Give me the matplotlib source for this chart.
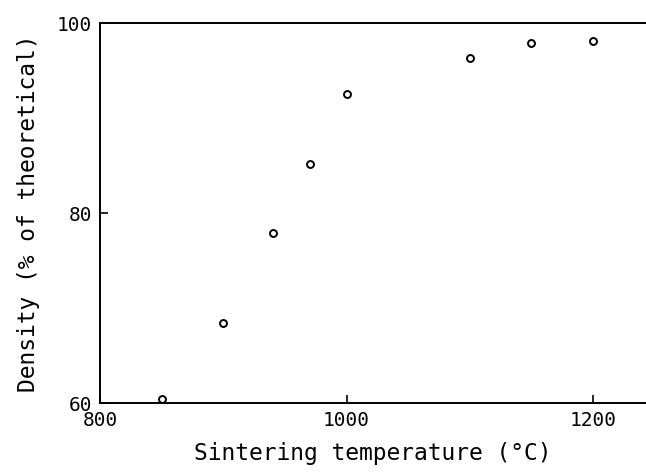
#density vs sintering temperature
import matplotlib
matplotlib.use("Agg")
import matplotlib.pyplot as plt

temperature=[850,900,940,970,1000,1100,1150,1200]
density=[60.4,68.4,77.9,85.2,92.5,96.3,97.9,98.1]
xticks=[800,1000,1200]
yticks=[60,80,100]

plt.rcParams['font.family']=['DejaVu Sans Mono']

fig=plt.figure(figsize=(6.46,4.72),dpi=100)
ax=fig.add_axes([0.155,0.146,0.845,0.805])
ax.plot(temperature,density,linestyle='none',marker='o',ms=5,mfc='white',mec='black',mew=1.4)

ax.set_xlim(800,1243)
ax.set_ylim(60,100)
ax.set_xticks(xticks)
ax.set_yticks(yticks)
ax.tick_params(direction='in',length=6,width=1.2,labelsize=14)
ax.tick_params(axis='x',pad=6)
ax.tick_params(axis='y',pad=6)

for s in ['left','bottom','top']:
    ax.spines[s].set_linewidth(1.4)
ax.spines['right'].set_visible(False)

ax.set_xlabel('Sintering temperature (°C)',fontsize=16.5,labelpad=8)
ax.set_ylabel('Density (% of theoretical)',fontsize=16.5,labelpad=12)

fig.savefig('out.png',dpi=100,facecolor='white')
